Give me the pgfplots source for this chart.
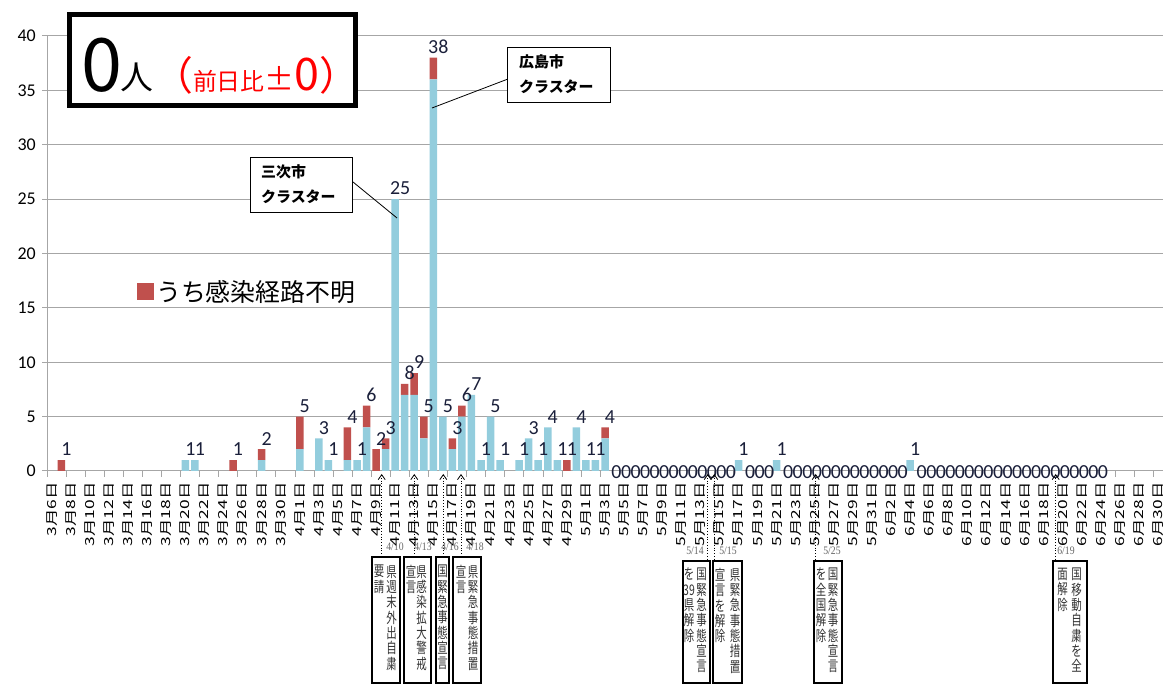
\documentclass[border=0pt]{standalone}
\usepackage{fontspec}
\setmainfont{Carlito}
\newfontfamily\jp{Noto Sans CJK JP}
\newfontfamily\narrowf{Liberation Serif}
\usepackage{pgfplots}
\pgfplotsset{compat=1.18}
\usepackage{pgfplotstable}
\usetikzlibrary{arrows.meta}

\definecolor{barblue}{HTML}{93CDDD}
\definecolor{barred}{HTML}{C0504D}
\definecolor{gridgray}{HTML}{A6A6A6}
\definecolor{labelnavy}{HTML}{1A1F3A}

% k = day index from 3/6, blue = known route, red = unknown route, tot = total
\pgfplotstableread{
k blue red tot
1 0 1 1
14 1 0 1
15 1 0 1
19 0 1 1
22 1 1 2
26 2 3 5
28 3 0 3
29 1 0 1
31 1 3 4
32 1 0 1
33 4 2 6
34 0 2 2
35 2 1 3
36 25 0 25
37 7 1 8
38 7 2 9
39 3 2 5
40 36 2 38
41 5 0 5
42 2 1 3
43 5 1 6
44 7 0 7
45 1 0 1
46 5 0 5
47 1 0 1
49 1 0 1
50 3 0 3
51 1 0 1
52 4 0 4
53 1 0 1
54 0 1 1
55 4 0 4
56 1 0 1
57 1 0 1
58 3 1 4
72 1 0 1
76 1 0 1
90 1 0 1
}\cases

% days with zero new cases
\pgfplotstableread{
k z
59 0
60 0
61 0
62 0
63 0
64 0
65 0
66 0
67 0
68 0
69 0
70 0
71 0
73 0
74 0
75 0
77 0
78 0
79 0
80 0
81 0
82 0
83 0
84 0
85 0
86 0
87 0
88 0
89 0
91 0
92 0
93 0
94 0
95 0
96 0
97 0
98 0
99 0
100 0
101 0
102 0
103 0
104 0
105 0
106 0
107 0
108 0
109 0
110 0
}\zerodays

\newcommand\vcol[3]{\node[anchor=north, align=center, inner sep=0pt, yscale=1.4,
  font=\jp\fontsize{10.5}{11}\selectfont, text=black!80] at (#1,#2) {#3};}

\pgfplotsset{frame/.style={
  at={(47bp,213bp)}, anchor=south west,
  scale only axis, width=1116bp, height=435bp,
  xmin=-0.5, xmax=116.5, ymin=0, ymax=40, clip=false}}

\begin{document}
\begin{tikzpicture}
\path[use as bounding box] (0,0) rectangle (1170bp,684bp);
\begin{axis}[
  frame,
  ybar stacked, bar width=7.5bp,
  axis x line*=bottom, axis y line*=left,
  axis line style={gridgray, line width=1bp},
  ytick={0,5,...,40},
  ymajorgrids, grid style={gridgray, line width=1bp},
  tick align=outside, major tick length=5bp, minor tick length=6bp,
  tick style={gridgray, line width=1bp},
  major x tick style={draw=none},
  xtick={0,2,...,116},
  minor xtick={-0.5,1.5,...,116.5},
  xticklabels={3月6日,3月8日,3月10日,3月12日,3月14日,3月16日,3月18日,3月20日,3月22日,3月24日,3月26日,3月28日,3月30日,
    4月1日,4月3日,4月5日,4月7日,4月9日,4月11日,4月13日,4月15日,4月17日,4月19日,4月21日,4月23日,4月25日,4月27日,4月29日,
    5月1日,5月3日,5月5日,5月7日,5月9日,5月11日,5月13日,5月15日,5月17日,5月19日,5月21日,5月23日,5月25日,5月27日,5月29日,5月31日,
    6月2日,6月4日,6月6日,6月8日,6月10日,6月12日,6月14日,6月16日,6月18日,6月20日,6月22日,6月24日,6月26日,6月28日,6月30日},
  xticklabel shift=6bp,
  xticklabel style={rotate=90, anchor=east, xscale=1.4, inner sep=0pt,
    font=\jp\fontsize{12.5}{12.5}\selectfont, text=black},
  yticklabel style={font=\fontsize{18}{18}\selectfont, inner sep=0pt, xshift=-6bp},
  /pgf/number format/assume math mode=true,
  legend style={at={(rel axis cs:0.0806,0.4115)}, anchor=west, draw=none, fill=none,
    inner sep=0pt, font=\jp\fontsize{25}{25}\selectfont,
    /tikz/every even column/.append style={column sep=0bp}},
  legend image code/.code={\fill[barred] (0bp,-8.5bp) rectangle (17bp,8.5bp);},
]
\addplot[fill=barblue, draw=none, forget plot] table[x=k, y=blue] {\cases};
\addplot[fill=barred, draw=none] table[x=k, y=red] {\cases};
\addlegendentry{うち感染経路不明}
\end{axis}

% value labels above the bars and on the zero days
\begin{axis}[frame, hide axis]
\addplot[draw=none, mark=none, nodes near coords, point meta=explicit symbolic,
  nodes near coords align=center,
  every node near coord/.append style={font=\fontsize{20}{20}\selectfont,
    anchor=south, inner sep=0pt, yshift=4bp, xshift=5bp, text=labelnavy}]
  table[x=k, y=tot, meta=tot] {\cases};
\addplot[draw=none, mark=none, nodes near coords, point meta=explicit symbolic,
  nodes near coords align=center,
  every node near coord/.append style={font=\fontsize{20}{20}\selectfont,
    anchor=center, inner sep=0pt, yshift=-1bp, xshift=2bp, text=labelnavy}]
  table[x=k, y=z, meta=z] {\zerodays};
\end{axis}

\begin{scope}[x=1bp, y=-1bp, shift={(0bp,684bp)}]
  % callouts
  \draw[black, line width=0.8bp] (353,182) -- (397,218);
  \draw[black, line width=0.8bp] (508,79) -- (432,108);
  \draw[black, line width=0.8bp, fill=white] (250,157) rectangle (352,212);
  \node[anchor=west, inner sep=0pt, font=\jp\bfseries\fontsize{15}{15}\selectfont] at (261,172) {三次市};
  \node[anchor=west, inner sep=0pt, font=\jp\bfseries\fontsize{15}{15}\selectfont] at (261,197) {クラスター};
  \draw[black, line width=0.8bp, fill=white] (507,47) rectangle (610,102);
  \node[anchor=west, inner sep=0pt, font=\jp\bfseries\fontsize{15}{15}\selectfont] at (519,62) {広島市};
  \node[anchor=west, inner sep=0pt, font=\jp\bfseries\fontsize{15}{15}\selectfont] at (519,87) {クラスター};

  % title box
  \draw[black, line width=5bp, fill=white] (69.5,14.5) rectangle (355.5,105.5);
  \node[anchor=base west, inner sep=0pt, font=\jp\fontsize{74}{74}\selectfont] at (81,92) {0};
  \node[anchor=base west, inner sep=0pt, font=\jp\fontsize{33}{33}\selectfont] at (120,90) {人};
  \node[anchor=base west, inner sep=0pt, text=red] at (153,91)
    {{\jp\fontsize{40}{40}\selectfont （}{\jp\fontsize{24}{24}\selectfont 前日比}{\jp\fontsize{30}{30}\selectfont ±}{\jp\fontsize{45}{45}\selectfont 0}{\jp\fontsize{40}{40}\selectfont ）}};

  % event markers
  \foreach \xx/\yy in {381.7/557, 414.3/557, 443.3/557, 461/557, 707.7/561, 714.3/561, 815.7/561, 1055.7/561}
    \draw[black, line width=0.8bp, dotted, {Straight Barb[length=5bp, width=7bp]}-] (\xx,474) -- (\xx,\yy);
  \foreach \xx/\yy/\tt in {395/547/4\slash10, 423/547/4\slash13, 450/547/4\slash16, 475/547/4\slash18,
      695/551/5\slash14, 728/551/5\slash15, 832/551/5\slash25, 1066/551/6\slash19}
    \node[inner sep=0pt, xscale=0.85, text=black!60, font=\narrowf\fontsize{11.5}{11.5}\selectfont] at (\xx,\yy) {\tt};

  \foreach \a/\b/\c/\d in {372/557/400/683, 404/557/431/683, 436/557/449/683, 453/557/481/683,
      683/561/710/683, 713/561/742/683, 814/561/842/683, 1053/561/1087/683}
    \draw[black, line width=2bp, fill=white] (\a,\b) rectangle (\c,\d);

  \vcol{391.7}{565}{県\\週\\末\\外\\出\\自\\粛}
  \vcol{379}{565}{要\\請}
  \vcol{421.7}{565}{県\\感\\染\\拡\\大\\警\\戒}
  \vcol{411}{565}{宣\\言}
  \vcol{442.5}{565}{国\\緊\\急\\事\\態\\宣\\言}
  \vcol{473}{565}{県\\緊\\急\\事\\態\\措\\置}
  \vcol{461}{565}{宣\\言}
  \vcol{701.7}{568}{国\\緊\\急\\事\\態\\宣\\言}
  \vcol{689}{568}{を\\39\\県\\解\\除}
  \vcol{735}{568}{県\\緊\\急\\事\\態\\措\\置}
  \vcol{720}{568}{宣\\言\\を\\解\\除}
  \vcol{833}{568}{国\\緊\\急\\事\\態\\宣\\言}
  \vcol{821}{568}{を\\全\\国\\解\\除}
  \vcol{1076.7}{568}{国\\移\\動\\自\\粛\\を\\全}
  \vcol{1062.5}{568}{面\\解\\除}
\end{scope}
\end{tikzpicture}
\end{document}
